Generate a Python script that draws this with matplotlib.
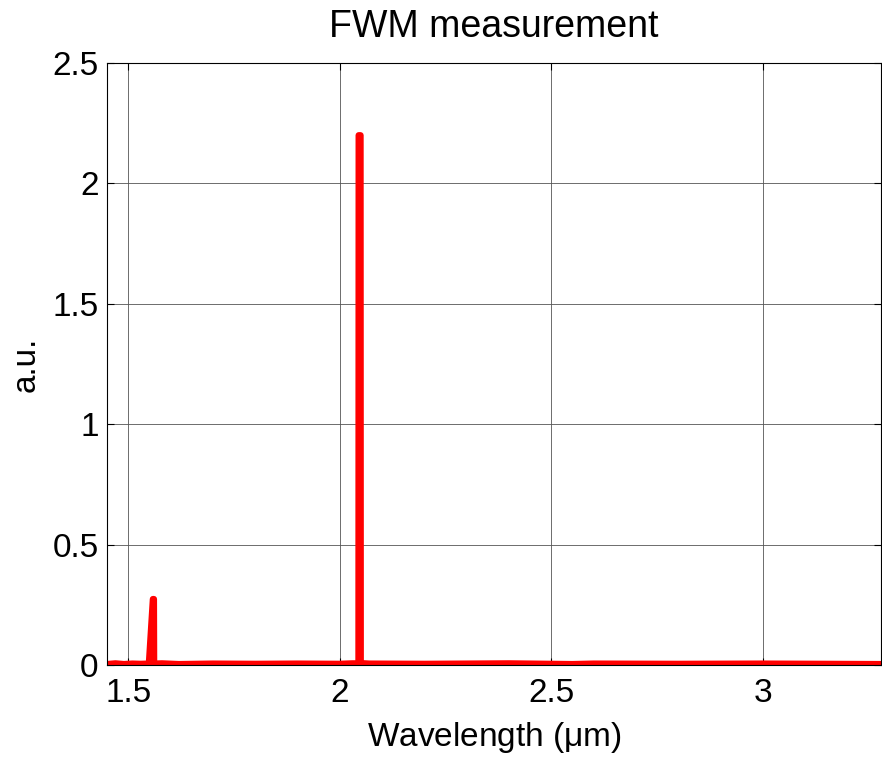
import matplotlib
matplotlib.use('Agg')
import matplotlib.pyplot as plt

# spectrum (um, a.u.)
wavelength = [1.450, 1.470, 1.490, 1.510, 1.530, 1.549, 1.5585, 1.561, 1.5615,
              1.580, 1.620, 1.700, 1.800, 1.900, 2.000, 2.030, 2.0445, 2.045, 2.0495, 2.050,
              2.070, 2.200, 2.400, 2.550, 2.600, 2.800, 3.000, 3.150, 3.280]
intensity = [0.004, 0.007, 0.004, 0.006, 0.005, 0.006, 0.274, 0.274, 0.006,
             0.007, 0.004, 0.006, 0.005, 0.006, 0.005, 0.007, 0.007, 2.20, 2.20, 0.008,
             0.006, 0.005, 0.007, 0.004, 0.006, 0.005, 0.006, 0.005, 0.004]
xticks = [1.5, 2, 2.5, 3]
xtick_labels = ['1.5', '2', '2.5', '3']
yticks = [0, 0.5, 1, 1.5, 2, 2.5]
ytick_labels = ['0', '0.5', '1', '1.5', '2', '2.5']

plt.rcParams['font.family'] = ['Liberation Sans', 'DejaVu Sans']
fig = plt.figure(figsize=(8.82, 7.57), dpi=100)
ax = fig.add_axes([0.1213, 0.1215, 0.8776, 0.7953])
ax.plot(wavelength, intensity, color='red', linewidth=4.5,
        solid_capstyle='round', solid_joinstyle='round')
ax.set_xlim(1.45, 3.28)
ax.set_ylim(0, 2.5)
ax.set_xticks(xticks)
ax.set_xticklabels(xtick_labels)
ax.set_yticks(yticks)
ax.set_yticklabels(ytick_labels)
ax.grid(True, color='#555555', linewidth=0.6)
ax.set_axisbelow(True)
ax.tick_params(direction='in', top=True, right=True, labelsize=24, length=5, pad=6)
ax.tick_params(axis='x', pad=9)
for s in ax.spines.values():
    s.set_linewidth(0.8)
ax.set_title('FWM measurement', fontsize=27, pad=19)
ax.set_xlabel('Wavelength ($\\mathregular{\\mu}$m)', fontsize=24, labelpad=8)
ax.set_ylabel('a.u.', fontsize=24, labelpad=8)
fig.savefig('out.png', dpi=100)
